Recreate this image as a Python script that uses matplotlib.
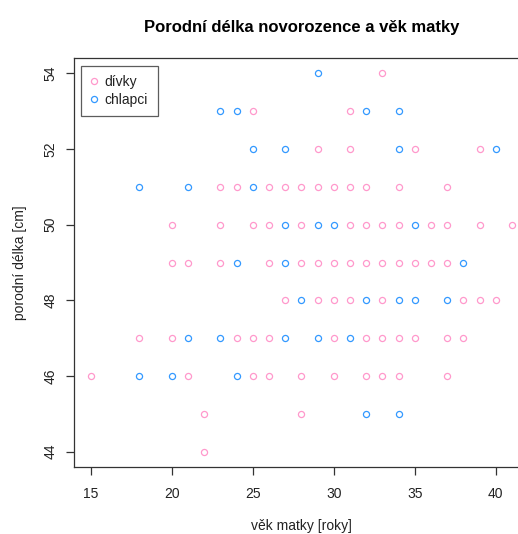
import matplotlib
matplotlib.use("Agg")
import matplotlib.pyplot as plt
from matplotlib.lines import Line2D

plt.rcParams['font.family'] = ['Liberation Sans', 'DejaVu Sans']

# mother's age [years] and birth length [cm] for girls
girls_age = [33,
             25, 31,
             29, 31, 35, 39,
             23, 24, 26, 27, 28, 29, 30, 31, 32, 34, 37,
             20, 23, 25, 26, 28, 31, 32, 33, 34, 36, 37, 39, 41,
             20, 21, 23, 26, 28, 29, 30, 31, 32, 33, 34, 35, 36, 37,
             27, 29, 30, 31, 33, 38, 39, 40,
             18, 20, 24, 25, 26, 30, 32, 33, 34, 35, 37, 38,
             15, 21, 25, 26, 28, 30, 32, 33, 34, 37,
             22, 28,
             22]
girls_len = [54,
             53, 53,
             52, 52, 52, 52,
             51, 51, 51, 51, 51, 51, 51, 51, 51, 51, 51,
             50, 50, 50, 50, 50, 50, 50, 50, 50, 50, 50, 50, 50,
             49, 49, 49, 49, 49, 49, 49, 49, 49, 49, 49, 49, 49, 49,
             48, 48, 48, 48, 48, 48, 48, 48,
             47, 47, 47, 47, 47, 47, 47, 47, 47, 47, 47, 47,
             46, 46, 46, 46, 46, 46, 46, 46, 46, 46,
             45, 45,
             44]

# mother's age [years] and birth length [cm] for boys
boys_age = [29,
            23, 24, 32, 34,
            25, 27, 34, 40,
            18, 21, 25,
            27, 29, 30, 35,
            24, 27, 38,
            28, 32, 34, 35, 37,
            21, 23, 27, 29, 31,
            18, 20, 24,
            32, 34]
boys_len = [54,
            53, 53, 53, 53,
            52, 52, 52, 52,
            51, 51, 51,
            50, 50, 50, 50,
            49, 49, 49,
            48, 48, 48, 48, 48,
            47, 47, 47, 47, 47,
            46, 46, 46,
            45, 45]

x_ticks = [15, 20, 25, 30, 35, 40]
y_ticks = [44, 46, 48, 50, 52, 54]
legend_labels = ["dívky", "chlapci"]

pink = "#FF99CC"
blue = "#3399FF"

W, H = 518, 534
fig = plt.figure(figsize=(W / 100, H / 100), dpi=100)
fig.patch.set_facecolor("white")

# plot region in pixels (right side runs past the figure edge)
left_px, right_px, top_px, bottom_px = 73.9, 528.8, 58.2, 466.8
ax = fig.add_axes([left_px / W, 1 - bottom_px / H,
                   (right_px - left_px) / W, (bottom_px - top_px) / H])

all_age = girls_age + boys_age
all_len = girls_len + boys_len
xr = max(all_age) - min(all_age)
yr = max(all_len) - min(all_len)
ax.set_xlim(min(all_age) - 0.04 * xr, max(all_age) + 0.04 * xr)
ax.set_ylim(min(all_len) - 0.04 * yr, max(all_len) + 0.04 * yr)

ms = 4.4
ax.plot(girls_age, girls_len, linestyle="none", marker="o", markersize=ms,
        markerfacecolor="none", markeredgecolor=pink, markeredgewidth=0.9,
        clip_on=False)
ax.plot(boys_age, boys_len, linestyle="none", marker="o", markersize=ms,
        markerfacecolor="none", markeredgecolor=blue, markeredgewidth=0.9,
        clip_on=False)

for s in ax.spines.values():
    s.set_color("#333333")
    s.set_linewidth(0.9)

ax.set_xticks(x_ticks)
ax.set_yticks(y_ticks)
ax.tick_params(axis="both", direction="out", length=5.5, width=0.9,
               color="#333333", labelsize=10, labelcolor="#222222")
ax.tick_params(axis="x", pad=9)
ax.tick_params(axis="y", pad=6)
for lab in ax.get_yticklabels():
    lab.set_rotation(90)
    lab.set_va("center")

ax.set_title("Porodní délka novorozence a věk matky", fontsize=12,
             fontweight="bold", pad=19)
ax.set_xlabel("věk matky [roky]", fontsize=10, color="#222222", labelpad=13)
ax.set_ylabel("porodní délka [cm]", fontsize=10, color="#222222", labelpad=12)

handles = [Line2D([], [], linestyle="none", marker="o", markersize=ms,
                  markerfacecolor="none", markeredgecolor=c,
                  markeredgewidth=0.9) for c in (pink, blue)]
leg = ax.legend(handles, legend_labels, loc="upper left",
                bbox_to_anchor=((80.7 - left_px) / (right_px - left_px),
                                1 - (65.7 - top_px) / (bottom_px - top_px)),
                frameon=True, fancybox=False, fontsize=10,
                handlelength=0.6, handletextpad=0.45, borderpad=0.68,
                labelspacing=0.25, borderaxespad=0)
leg.get_frame().set_edgecolor("#333333")
leg.get_frame().set_linewidth(0.9)
for t in leg.get_texts():
    t.set_color("#222222")

fig.savefig("out.png", dpi=100, facecolor="white")
